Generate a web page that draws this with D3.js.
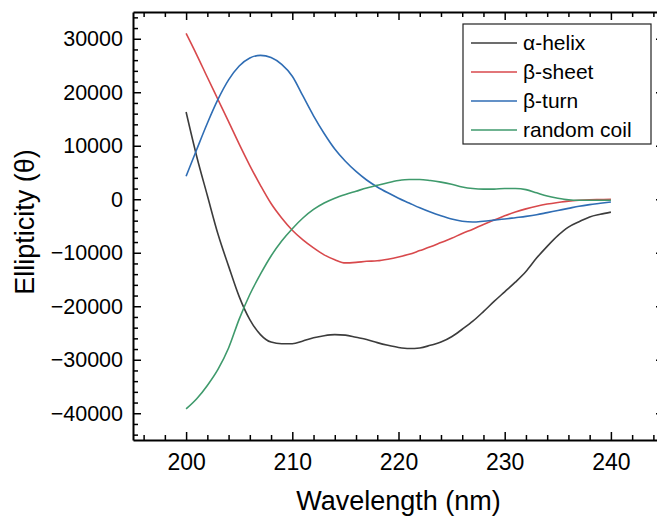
<!DOCTYPE html>
<html>
<head>
<meta charset="utf-8">
<script src="https://cdn.jsdelivr.net/npm/d3@7"></script>
<style>
  body { margin: 0; background: #fff; }
  svg { display: block; }
</style>
</head>
<body>
<script>
// wavelengths (nm), one point per nm
var wavelengths = d3.range(200, 241);

// ellipticity
var alphaHelix = [16300, 8000, 700, -6500, -12500, -18200, -22500, -25300, -26700, -27000,
  -27000, -26500, -25900, -25500, -25300, -25400, -25800, -26200, -26800, -27300,
  -27700, -27900, -27800, -27300, -26700, -25700, -24300, -22800, -21000, -19100,
  -17300, -15500, -13500, -11000, -8800, -6800, -5200, -4200, -3300, -2800, -2400];
var betaSheet = [31000, 27000, 22800, 18650, 14500, 10300, 6300, 2600, -800, -3500,
  -5800, -7600, -9100, -10400, -11300, -11900, -11800, -11600, -11500, -11200,
  -10800, -10300, -9600, -8900, -8100, -7300, -6400, -5600, -4700, -3900,
  -3100, -2400, -1800, -1300, -900, -600, -350, -200, -100, -50, 0];
var betaTurn = [4300, 9300, 14200, 18650, 22300, 24900, 26400, 26900, 26500, 25200,
  23000, 19300, 15600, 12300, 9400, 7100, 5200, 3600, 2300, 1200,
  200, -700, -1600, -2400, -3100, -3700, -4100, -4250, -4100, -3900,
  -3700, -3450, -3200, -2900, -2500, -2100, -1700, -1300, -1000, -750, -500];
var randomCoil = [-39200, -37300, -34800, -31800, -27800, -22400, -17800, -14000, -10600, -7800,
  -5500, -3500, -1900, -700, 200, 900, 1500, 2100, 2600, 3100,
  3500, 3700, 3700, 3500, 3200, 2800, 2300, 2000, 1900, 1900,
  2000, 2000, 1800, 1200, 600, 200, -100, -200, -200, -200, -200];

var seriesNames = ["\u03b1-helix", "\u03b2-sheet", "\u03b2-turn", "random coil"];
var seriesColors = ["#3c3c3c", "#d8494c", "#2f6db4", "#3f9a6c"];
var seriesValues = [alphaHelix, betaSheet, betaTurn, randomCoil];

var xTicks = [200, 210, 220, 230, 240];
var yTicks = [-40000, -30000, -20000, -10000, 0, 10000, 20000, 30000];

var width = 657, height = 519;
var margin = {top: 12, right: -7, bottom: 79, left: 133};

var svg = d3.select("body").append("svg")
    .attr("width", width)
    .attr("height", height)
    .style("background-color", "#fff");

var x = d3.scaleLinear().domain([195, 245]).range([margin.left, width - margin.right]);
var y = d3.scaleLinear().domain([-45000, 35000]).range([height - margin.bottom, margin.top]);

var font = "Arial, 'Liberation Sans', sans-serif";

// minor ticks first
function minor(axis, vals, tr) {
  var g = svg.append("g").attr("transform", tr)
    .call(axis.tickValues(vals).tickSize(-5).tickFormat(""));
  g.select(".domain").remove();
  g.selectAll("line").attr("stroke", "#000").attr("stroke-width", 1.5);
}
var xMinor = d3.range(196, 245, 2).filter(function(d){ return d % 10 != 0; });
var yMinor = d3.range(-44000, 35000, 2000).filter(function(d){ return d % 10000 != 0; });
minor(d3.axisBottom(x), xMinor, "translate(0," + y(-45000) + ")");
minor(d3.axisTop(x), xMinor, "translate(0," + y(35000) + ")");
minor(d3.axisLeft(y), yMinor, "translate(" + x(195) + ",0)");
minor(d3.axisRight(y), yMinor, "translate(" + x(245) + ",0)");

// major axes
function major(axis, tr, labels, fs) {
  var g = svg.append("g").attr("transform", tr)
    .call(axis.tickSizeInner(-8).tickSizeOuter(0));
  g.select(".domain").attr("stroke", "#000").attr("stroke-width", 2);
  g.selectAll(".tick line").attr("stroke", "#000").attr("stroke-width", 1.5);
  g.selectAll("text").style("font-family", font).style("font-size", fs + "px").attr("fill", "#000");
  if (!labels) g.selectAll("text").remove();
  return g;
}
major(d3.axisBottom(x).tickValues(xTicks).tickPadding(14), "translate(0," + y(-45000) + ")", true, 23);
major(d3.axisTop(x).tickValues(xTicks), "translate(0," + y(35000) + ")", false, 23);
major(d3.axisLeft(y).tickValues(yTicks).tickPadding(10).tickFormat(d3.format("d")), "translate(" + x(195) + ",0)", true, 21.5);
major(d3.axisRight(y).tickValues(yTicks), "translate(" + x(245) + ",0)", false, 21);

// replace hyphen minus with a real minus sign like the original
svg.selectAll("text").each(function() {
  var t = d3.select(this);
  if (t.text()) t.text(t.text().replace("-", "\u2212"));
});

// lines
var line = d3.line()
    .x(function(d, i){ return x(wavelengths[i]); })
    .y(function(d){ return y(d); })
    .curve(d3.curveMonotoneX);

seriesValues.forEach(function(vals, k) {
  svg.append("path")
    .attr("d", line(vals))
    .attr("fill", "none")
    .attr("stroke", seriesColors[k])
    .attr("stroke-width", 1.6);
});

// legend
var legend = svg.append("g");
legend.append("rect")
  .attr("x", 463).attr("y", 24).attr("width", 188).attr("height", 120)
  .attr("fill", "#fff").attr("stroke", "#222").attr("stroke-width", 1.2);
seriesNames.forEach(function(name, k) {
  var cy = 43 + k * 29;
  legend.append("line")
    .attr("x1", 471).attr("x2", 517).attr("y1", cy).attr("y2", cy)
    .attr("stroke", seriesColors[k]).attr("stroke-width", 1.6);
  legend.append("text")
    .attr("x", 523).attr("y", cy + 7)
    .style("font-family", font).style("font-size", "21px").attr("fill", "#000")
    .text(name);
});

// axis titles
svg.append("text")
  .attr("x", (x(195) + x(245)) / 2).attr("y", 510)
  .attr("text-anchor", "middle")
  .style("font-family", font).style("font-size", "27px").attr("fill", "#000")
  .text("Wavelength (nm)");

svg.append("text")
  .attr("transform", "translate(34," + 222 + ") rotate(-90)")
  .attr("text-anchor", "middle")
  .style("font-family", font).style("font-size", "27px").attr("fill", "#000")
  .text("Ellipticity (\u03b8)");
</script>
</body>
</html>
